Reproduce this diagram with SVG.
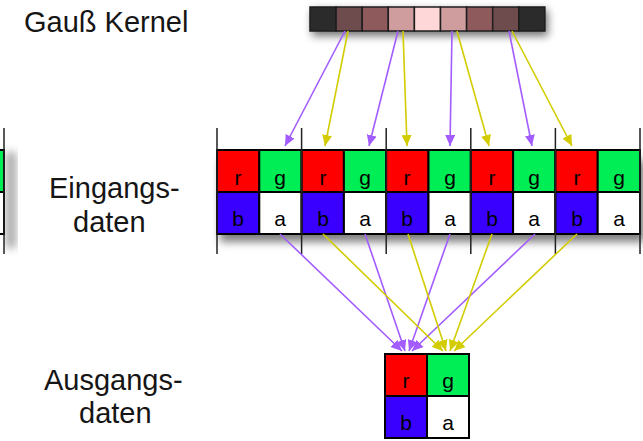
<svg xmlns="http://www.w3.org/2000/svg" width="643" height="441" viewBox="0 0 643 441">
  <defs>
    <filter id="soft" x="-20%" y="-50%" width="140%" height="200%">
      <feGaussianBlur stdDeviation="4"/>
    </filter>
    <marker id="headP" markerUnits="userSpaceOnUse" markerWidth="12" markerHeight="10" refX="11" refY="5" orient="auto">
      <path d="M0,0 L11,5 L0,10 Z" fill="#a35cff"/>
    </marker>
    <marker id="headY" markerUnits="userSpaceOnUse" markerWidth="12" markerHeight="10" refX="11" refY="5" orient="auto">
      <path d="M0,0 L11,5 L0,10 Z" fill="#d2cc00"/>
    </marker>
  </defs>
  <style>
    .label { font-family: "Liberation Sans", Arial, sans-serif; font-size: 29px; fill: #151515; }
    .ch { font-family: "Liberation Sans", Arial, sans-serif; font-size: 21px; fill: #000; text-anchor: middle; }
    .cell { stroke: #000; stroke-width: 2; }
    .r { fill: #ff0000; }
    .g { fill: #00ee55; }
    .b { fill: #3a00ff; }
    .a { fill: #ffffff; }
    .tick { stroke: #222; stroke-width: 1.5; fill: none; }
    .kc { stroke: #1e1e1e; stroke-width: 1.5; }
    .p { stroke: #a35cff; stroke-width: 1.6; fill: none; marker-end: url(#headP); }
    .y { stroke: #d2cc00; stroke-width: 1.6; fill: none; marker-end: url(#headY); }
  </style>

  <rect width="643" height="441" fill="#ffffff"/>

  <!-- labels -->
  <g id="labels">
    <text class="label" x="24" y="32">Gauß Kernel</text>
    <text class="label" x="49" y="198">Eingangs-</text>
    <text class="label" x="73" y="232">daten</text>
    <text class="label" x="44" y="390">Ausgangs-</text>
    <text class="label" x="79" y="423">daten</text>
  </g>

  <!-- 9-tap Gaussian kernel -->
  <g id="kernel">
    <rect x="312" y="10" width="236" height="26" fill="#000" opacity="0.55" filter="url(#soft)"/>
    <rect class="kc" x="310" y="7" width="26.1" height="24" fill="#2b2b2b"/>
    <rect class="kc" x="336.1" y="7" width="26.1" height="24" fill="#6e4b4d"/>
    <rect class="kc" x="362.2" y="7" width="26.1" height="24" fill="#8f5a5b"/>
    <rect class="kc" x="388.3" y="7" width="26.1" height="24" fill="#cf9d9d"/>
    <rect class="kc" x="414.4" y="7" width="26.1" height="24" fill="#fed8d8"/>
    <rect class="kc" x="440.5" y="7" width="26.1" height="24" fill="#cf9d9d"/>
    <rect class="kc" x="466.6" y="7" width="26.1" height="24" fill="#8f5a5b"/>
    <rect class="kc" x="492.7" y="7" width="26.1" height="24" fill="#6e4b4d"/>
    <rect class="kc" x="518.8" y="7" width="26.1" height="24" fill="#2b2b2b"/>
  </g>

  <!-- tail of the previous input texel row -->
  <g id="input-prev">
    <rect x="6" y="152" width="10" height="96" fill="#000" opacity="0.35" filter="url(#soft)"/>
    <rect class="cell g" x="-40" y="150" width="44" height="42"/>
    <rect class="cell a" x="-40" y="192" width="44" height="42"/>
    <line class="tick" x1="4" y1="128" x2="4" y2="254"/>
  </g>

  <!-- input texels (RGBA) -->
  <g id="input-data">
    <rect x="220" y="160" width="425" height="82" fill="#000" opacity="0.5" filter="url(#soft)"/>
    <rect class="cell r" x="217" y="150" width="42.3" height="42"/>
    <rect class="cell g" x="259.3" y="150" width="42.3" height="42"/>
    <rect class="cell b" x="217" y="192" width="42.3" height="42"/>
    <rect class="cell a" x="259.3" y="192" width="42.3" height="42"/>
    <rect class="cell r" x="301.6" y="150" width="42.3" height="42"/>
    <rect class="cell g" x="343.9" y="150" width="42.3" height="42"/>
    <rect class="cell b" x="301.6" y="192" width="42.3" height="42"/>
    <rect class="cell a" x="343.9" y="192" width="42.3" height="42"/>
    <rect class="cell r" x="386.2" y="150" width="42.3" height="42"/>
    <rect class="cell g" x="428.5" y="150" width="42.3" height="42"/>
    <rect class="cell b" x="386.2" y="192" width="42.3" height="42"/>
    <rect class="cell a" x="428.5" y="192" width="42.3" height="42"/>
    <rect class="cell r" x="470.8" y="150" width="42.3" height="42"/>
    <rect class="cell g" x="513.1" y="150" width="42.3" height="42"/>
    <rect class="cell b" x="470.8" y="192" width="42.3" height="42"/>
    <rect class="cell a" x="513.1" y="192" width="42.3" height="42"/>
    <rect class="cell r" x="555.4" y="150" width="42.3" height="42"/>
    <rect class="cell g" x="597.7" y="150" width="42.3" height="42"/>
    <rect class="cell b" x="555.4" y="192" width="42.3" height="42"/>
    <rect class="cell a" x="597.7" y="192" width="42.3" height="42"/>
    <path class="tick" d="M217,128 V254 M301.6,128 V254 M386.2,128 V254 M470.8,128 V254 M555.4,128 V254 M640,128 V254"/>
    <text class="ch" x="238" y="185">r</text>
    <text class="ch" x="280" y="185">g</text>
    <text class="ch" x="238" y="226">b</text>
    <text class="ch" x="280" y="226">a</text>
    <text class="ch" x="323" y="185">r</text>
    <text class="ch" x="365" y="185">g</text>
    <text class="ch" x="323" y="226">b</text>
    <text class="ch" x="365" y="226">a</text>
    <text class="ch" x="407" y="185">r</text>
    <text class="ch" x="450" y="185">g</text>
    <text class="ch" x="407" y="226">b</text>
    <text class="ch" x="450" y="226">a</text>
    <text class="ch" x="492" y="185">r</text>
    <text class="ch" x="534" y="185">g</text>
    <text class="ch" x="492" y="226">b</text>
    <text class="ch" x="534" y="226">a</text>
    <text class="ch" x="577" y="185">r</text>
    <text class="ch" x="619" y="185">g</text>
    <text class="ch" x="577" y="226">b</text>
    <text class="ch" x="619" y="226">a</text>
  </g>

  <!-- output texel -->
  <g id="output-data">
    <rect class="cell r" x="385" y="354" width="42" height="42"/>
    <rect class="cell g" x="427" y="354" width="42" height="42"/>
    <rect class="cell b" x="385" y="396" width="42" height="42"/>
    <rect class="cell a" x="427" y="396" width="42" height="42"/>
    <text class="ch" x="406" y="388">r</text>
    <text class="ch" x="448" y="388">g</text>
    <text class="ch" x="406" y="430">b</text>
    <text class="ch" x="448" y="430">a</text>
  </g>

  <!-- connectors -->
  <g id="connectors">
    <!-- kernel taps to input texels -->
    <line class="p" x1="345" y1="31" x2="285" y2="146"/>
    <line class="y" x1="348" y1="31" x2="325" y2="146"/>
    <line class="p" x1="398" y1="31" x2="369" y2="146"/>
    <line class="y" x1="403" y1="31" x2="407" y2="146"/>
    <line class="p" x1="452" y1="31" x2="450" y2="146"/>
    <line class="y" x1="457" y1="31" x2="489" y2="146"/>
    <line class="p" x1="509" y1="31" x2="532" y2="146"/>
    <line class="y" x1="512" y1="31" x2="572" y2="146"/>
    <!-- weighted input texels to output -->
    <line class="p" x1="280" y1="234" x2="402" y2="351"/>
    <line class="p" x1="365" y1="234" x2="405" y2="351"/>
    <line class="p" x1="450" y1="234" x2="409" y2="351"/>
    <line class="p" x1="535" y1="234" x2="412" y2="351"/>
    <line class="y" x1="323" y1="234" x2="443" y2="351"/>
    <line class="y" x1="408" y1="234" x2="446" y2="351"/>
    <line class="y" x1="492" y1="234" x2="450" y2="351"/>
    <line class="y" x1="577" y1="234" x2="454" y2="351"/>
  </g>
</svg>
